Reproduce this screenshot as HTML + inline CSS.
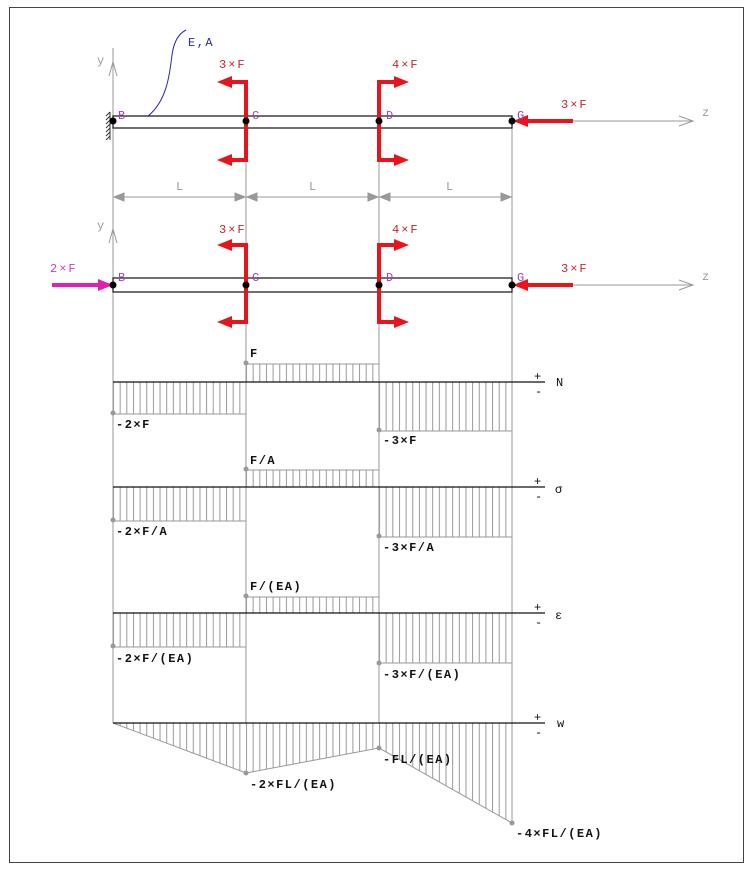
<!DOCTYPE html>
<html><head><meta charset="utf-8"><style>
html,body{margin:0;padding:0;background:#fff}
svg text{font-family:"Liberation Mono",monospace;font-size:12px}
</style></head><body>
<svg width="754" height="871" viewBox="0 0 754 871" xmlns="http://www.w3.org/2000/svg">
<defs>
<pattern id="h" width="6.65" height="10" patternUnits="userSpaceOnUse" x="113">
<line x1="0.5" y1="0" x2="0.5" y2="10" stroke="#999" stroke-width="1"/>
</pattern>
</defs>
<rect x="9.5" y="7.5" width="734" height="855" fill="none" stroke="#444" stroke-width="1"/>

<g stroke="#999" stroke-width="1">
<line x1="113" y1="48" x2="113" y2="723"/>
<line x1="246" y1="128" x2="246" y2="723"/>
<line x1="379" y1="128" x2="379" y2="723"/>
<line x1="512" y1="128" x2="512" y2="823"/>
</g>
<g stroke="#999" fill="none">
<polyline points="109,76 113,62 117,76"/>
<polyline points="109,243 113,229 117,243"/>
</g>
<text x="97" y="64" fill="#999" font-size="13">y</text>
<text x="97" y="229" fill="#999" font-size="13">y</text>

<g stroke="#333" stroke-width="1">
<line x1="110" y1="112" x2="110" y2="140"/>
<line x1="106" y1="116" x2="110" y2="112"/><line x1="106" y1="120" x2="110" y2="116"/>
<line x1="106" y1="124" x2="110" y2="120"/><line x1="106" y1="128" x2="110" y2="124"/>
<line x1="106" y1="132" x2="110" y2="128"/><line x1="106" y1="136" x2="110" y2="132"/>
<line x1="106" y1="140" x2="110" y2="136"/>
</g>

<rect x="113" y="116" width="399" height="12" fill="none" stroke="#222" stroke-width="1.3"/>
<rect x="113" y="278" width="399" height="14" fill="none" stroke="#222" stroke-width="1.3"/>

<path d="M148 116 C168 100 170 70 172 55 C174 40 180 33 186 30" fill="none" stroke="#2a2aa0" stroke-width="1"/>
<text x="188" y="46" fill="#2a2aa0" font-size="13" letter-spacing="1.5">E,A</text>

<g stroke="#999" fill="none">
<line x1="573" y1="121" x2="693" y2="121"/><polyline points="679,116 693,121 679,126"/>
<line x1="573" y1="285" x2="693" y2="285"/><polyline points="679,280 693,285 679,290"/>
</g>
<text x="702" y="116" fill="#999" font-size="12">z</text>
<text x="702" y="280" fill="#999" font-size="12">z</text>

<g stroke="#999" fill="#999">
<line x1="113" y1="197" x2="512" y2="197"/>
<polygon points="114,197 124,193 124,201"/><polygon points="245,197 235,193 235,201"/>
<polygon points="247,197 257,193 257,201"/><polygon points="378,197 368,193 368,201"/>
<polygon points="380,197 390,193 390,201"/><polygon points="511,197 501,193 501,201"/>
</g>
<text x="176" y="190" fill="#999" font-size="13">L</text>
<text x="309" y="190" fill="#999" font-size="13">L</text>
<text x="446" y="190" fill="#999" font-size="13">L</text>

<g stroke="#e8141c" stroke-width="4" fill="none">
<polyline points="230,82 246,82 246,160 230,160"/>
<polyline points="396,82 379,82 379,160 396,160"/>
<polyline points="230,245 246,245 246,322 230,322"/>
<polyline points="396,245 379,245 379,322 396,322"/>
<line x1="573" y1="121" x2="526" y2="121"/>
<line x1="573" y1="285" x2="526" y2="285"/>
</g>
<g fill="#e8141c">
<polygon points="217,82 232,76 232,88"/><polygon points="217,160 232,154 232,166"/>
<polygon points="409,82 394,76 394,88"/><polygon points="409,160 394,154 394,166"/>
<polygon points="217,245 232,239 232,251"/><polygon points="217,322 232,316 232,328"/>
<polygon points="409,245 394,239 394,251"/><polygon points="409,322 394,316 394,328"/>
<polygon points="513,121 528,115 528,127"/><polygon points="513,285 528,279 528,291"/>
</g>
<g fill="#c0282c" font-size="13" letter-spacing="2">
<text x="219" y="68">3×F</text><text x="392" y="68">4×F</text>
<text x="219" y="233">3×F</text><text x="392" y="233">4×F</text>
<text x="561" y="108">3×F</text><text x="561" y="272">3×F</text>
</g>
<line x1="52" y1="285" x2="100" y2="285" stroke="#e020b0" stroke-width="4"/>
<polygon points="113,285 98,279 98,291" fill="#e020b0"/>
<text x="50" y="272" fill="#d040b0" font-size="13" letter-spacing="2">2×F</text>

<g fill="#a040c0" font-size="13">
<text x="118" y="119">B</text><text x="252" y="119">C</text><text x="386" y="119">D</text><text x="517" y="119">G</text>
<text x="118" y="281">B</text><text x="252" y="281">C</text><text x="386" y="281">D</text><text x="517" y="281">G</text>
</g>
<g fill="#000">
<circle cx="113" cy="121" r="3.5"/><circle cx="246" cy="121" r="3.5"/><circle cx="379" cy="121" r="3.5"/><circle cx="512" cy="121" r="3.5"/>
<circle cx="113" cy="285" r="3.5"/><circle cx="246" cy="285" r="3.5"/><circle cx="379" cy="285" r="3.5"/><circle cx="512" cy="285" r="3.5"/>
</g>

<g fill="url(#h)" stroke="#999" stroke-width="1">
<rect x="246" y="364" width="133" height="18"/>
<rect x="113" y="382" width="133" height="32"/>
<rect x="379" y="382" width="133" height="49"/>
<rect x="246" y="470" width="133" height="17"/>
<rect x="113" y="487" width="133" height="34"/>
<rect x="379" y="487" width="133" height="50"/>
<rect x="246" y="597" width="133" height="16"/>
<rect x="113" y="613" width="133" height="34"/>
<rect x="379" y="613" width="133" height="50"/>
<polygon points="113,723 246,773 379,748 512,823 512,723"/>
</g>
<g stroke="#111" stroke-width="1.3">
<line x1="113" y1="382" x2="545" y2="382"/>
<line x1="113" y1="487" x2="545" y2="487"/>
<line x1="113" y1="613" x2="545" y2="613"/>
<line x1="113" y1="723" x2="545" y2="723"/>
</g>
<g fill="#111" font-size="16">
<text x="534" y="380">+</text><text x="535" y="395">-</text><text x="556" y="386" font-size="14">N</text>
<text x="534" y="485">+</text><text x="535" y="500">-</text><text x="555" y="493" font-family="Liberation Serif,serif" font-size="18">σ</text>
<text x="534" y="611">+</text><text x="535" y="626">-</text><text x="555" y="619" font-family="Liberation Serif,serif" font-size="18">ε</text>
<text x="534" y="721">+</text><text x="535" y="736">-</text><text x="557" y="727" font-size="14">w</text>
</g>
<g fill="#999">
<circle cx="246" cy="363" r="2.5"/><circle cx="113" cy="413" r="2.5"/><circle cx="379" cy="430" r="2.5"/>
<circle cx="246" cy="469" r="2.5"/><circle cx="113" cy="520" r="2.5"/><circle cx="379" cy="536" r="2.5"/>
<circle cx="246" cy="596" r="2.5"/><circle cx="113" cy="646" r="2.5"/><circle cx="379" cy="663" r="2.5"/>
<circle cx="246" cy="773" r="2.5"/><circle cx="379" cy="748" r="2.5"/><circle cx="512" cy="823" r="2.5"/>
</g>
<g fill="#111" font-size="12" font-weight="bold" letter-spacing="1.5">
<text x="250" y="357">F</text>
<text x="116" y="428">-2×F</text>
<text x="383" y="444">-3×F</text>
<text x="250" y="464">F/A</text>
<text x="116" y="535">-2×F/A</text>
<text x="383" y="551">-3×F/A</text>
<text x="250" y="590">F/(EA)</text>
<text x="116" y="662">-2×F/(EA)</text>
<text x="383" y="678">-3×F/(EA)</text>
<text x="250" y="788">-2×FL/(EA)</text>
<text x="383" y="763">-FL/(EA)</text>
<text x="516" y="837">-4×FL/(EA)</text>
</g>
</svg>
</body></html>
